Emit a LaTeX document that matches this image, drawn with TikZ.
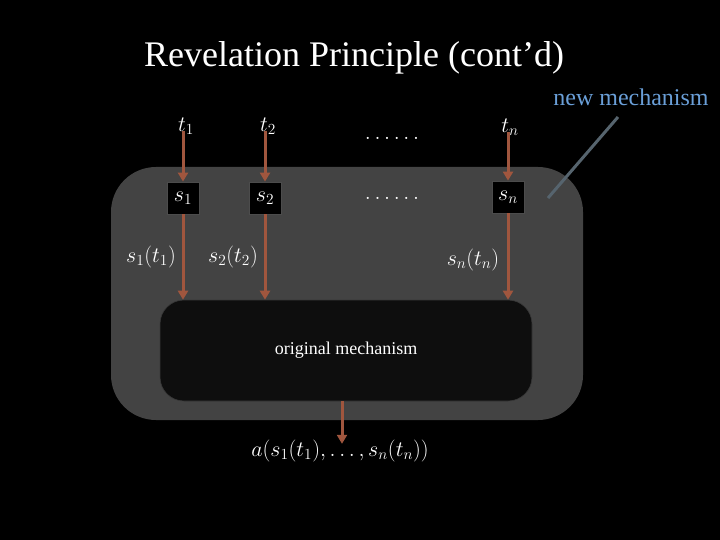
\RequirePackage{fix-cm}
\documentclass[tikz,border=0pt]{standalone}
\usepackage{fontspec}
\setmainfont{Liberation Serif}
\usetikzlibrary{arrows.meta}
\definecolor{arr}{HTML}{A0563E}
\definecolor{outerfill}{HTML}{434343}
\definecolor{innerfill}{HTML}{0E0E0E}
\definecolor{bluetxt}{HTML}{6A9FD8}
\definecolor{pointer}{HTML}{56646E}
\newcommand{\mfont}{\fontsize{22}{26}\selectfont}
\begin{document}
\begin{tikzpicture}[x=1pt,y=-1pt,
  flow/.style={draw=arr, line width=3pt, -{Triangle[length=9pt,width=10pt]}},
  sbox/.style={draw=gray!60!black, line width=0.8pt, fill=black, minimum size=32pt, inner sep=0pt, text=white, font=\mfont},
  lab/.style={text=white, font=\mfont, inner sep=0pt},
  dotlab/.style={text=white, font=\mfont, inner sep=0pt}]
\fill[black] (0,0) rectangle (720,540);
\useasboundingbox (0,0) rectangle (720,540);

% title
\node[text=white, font=\fontsize{36}{40}\selectfont] (title) at (354,58) {Revelation Principle (cont’d)};

% outer and inner mechanisms
\node[draw=none, fill=outerfill, rounded corners=45pt, minimum width=472pt, minimum height=253pt, inner sep=0pt] (outer) at (347,293.5) {};
\node[draw=gray!45!black, line width=0.6pt, fill=innerfill, rounded corners=24pt, minimum width=372pt, minimum height=101pt, inner sep=0pt, text=white, font=\fontsize{18}{20}\selectfont] (inner) at (346,350.5) {original mechanism};

% new mechanism label and pointer
\node[text=bluetxt, font=\fontsize{24}{26}\selectfont, inner sep=0pt] (newmech) at (631,97) {new mechanism};
\coordinate (ptop) at (618,117);
\coordinate (pbot) at (548,198);
\draw[pointer, line width=3pt] (ptop) -- (pbot);

% type labels
\node[lab] (t1) at (186,126) {$t_1$};
\node[lab] (t2) at (268,126) {$t_2$};
\node[lab] (tn) at (510,127) {$t_n$};
\node[dotlab] (dots1) at (392,138) {$\ldots\ldots$};
\node[dotlab] (dots2) at (392,198) {$\ldots\ldots$};

% strategy boxes
\node[sbox] (s1) at (183,198) {$s_1$};
\node[sbox] (s2) at (265,198) {$s_2$};
\node[sbox] (sn) at (508,197) {$s_n$};

% arrows in
\draw[flow] ([yshift=4pt]t1.south -| s1.north) -- (s1.north);
\draw[flow] ([yshift=4pt]t2.south -| s2.north) -- (s2.north);
\draw[flow] ([yshift=4pt]tn.south -| sn.north) -- (sn.north);
\draw[flow] (s1.south) -- (s1.south |- inner.north);
\draw[flow] (s2.south) -- (s2.south |- inner.north);
\draw[flow] (sn.south) -- (sn.south |- inner.north);

% reports
\node[lab] (r1) at (151,257) {$s_1(t_1)$};
\node[lab] (r2) at (233,257) {$s_2(t_2)$};
\node[lab] (rn) at (473,260) {$s_n(t_n)$};

% outcome
\node[lab] (out) at (340,451) {$a(s_1(t_1),\ldots,s_n(t_n))$};
\draw[flow] ([xshift=2pt]inner.south -| out.north) -- ([xshift=2pt,yshift=-4pt]out.north);
\end{tikzpicture}
\end{document}
